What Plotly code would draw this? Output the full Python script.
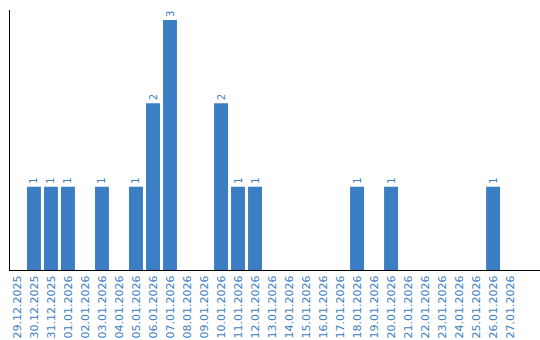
import plotly.graph_objects as go

dates = ["29.12.2025", "30.12.2025", "31.12.2025", "01.01.2026", "02.01.2026",
         "03.01.2026", "04.01.2026", "05.01.2026", "06.01.2026", "07.01.2026",
         "08.01.2026", "09.01.2026", "10.01.2026", "11.01.2026", "12.01.2026",
         "13.01.2026", "14.01.2026", "15.01.2026", "16.01.2026", "17.01.2026",
         "18.01.2026", "19.01.2026", "20.01.2026", "21.01.2026", "22.01.2026",
         "23.01.2026", "24.01.2026", "25.01.2026", "26.01.2026", "27.01.2026"]
counts = [0, 1, 1, 1, 0, 1, 0, 1, 2, 3,
          0, 0, 2, 1, 1, 0, 0, 0, 0, 0,
          1, 0, 1, 0, 0, 0, 0, 0, 1, 0]

blue = "#3b7ec3"
labels = [str(v) if v else "" for v in counts]

fig = go.Figure(go.Bar(
    x=dates, y=counts, marker=dict(color=blue, line=dict(width=0)),
    text=labels, textposition="outside", textangle=-90,
    textfont=dict(family="DejaVu Sans", size=10, color=blue),
    cliponaxis=False,
))
fig.update_layout(
    width=540, height=340,
    margin=dict(l=10, r=0, t=10, b=70),
    plot_bgcolor="white", paper_bgcolor="white",
    bargap=0.18, showlegend=False,
    xaxis=dict(type="category", range=[-0.41, 30.76], tickangle=-90,
               tickfont=dict(family="DejaVu Sans", size=11, color=blue),
               showline=True, linecolor="black", linewidth=1,
               showgrid=False, ticks=""),
    yaxis=dict(range=[0, 3.12], showticklabels=False, showgrid=False,
               zeroline=False, showline=True, linecolor="black", linewidth=1,
               ticks=""),
)
fig.write_html("out.html")
